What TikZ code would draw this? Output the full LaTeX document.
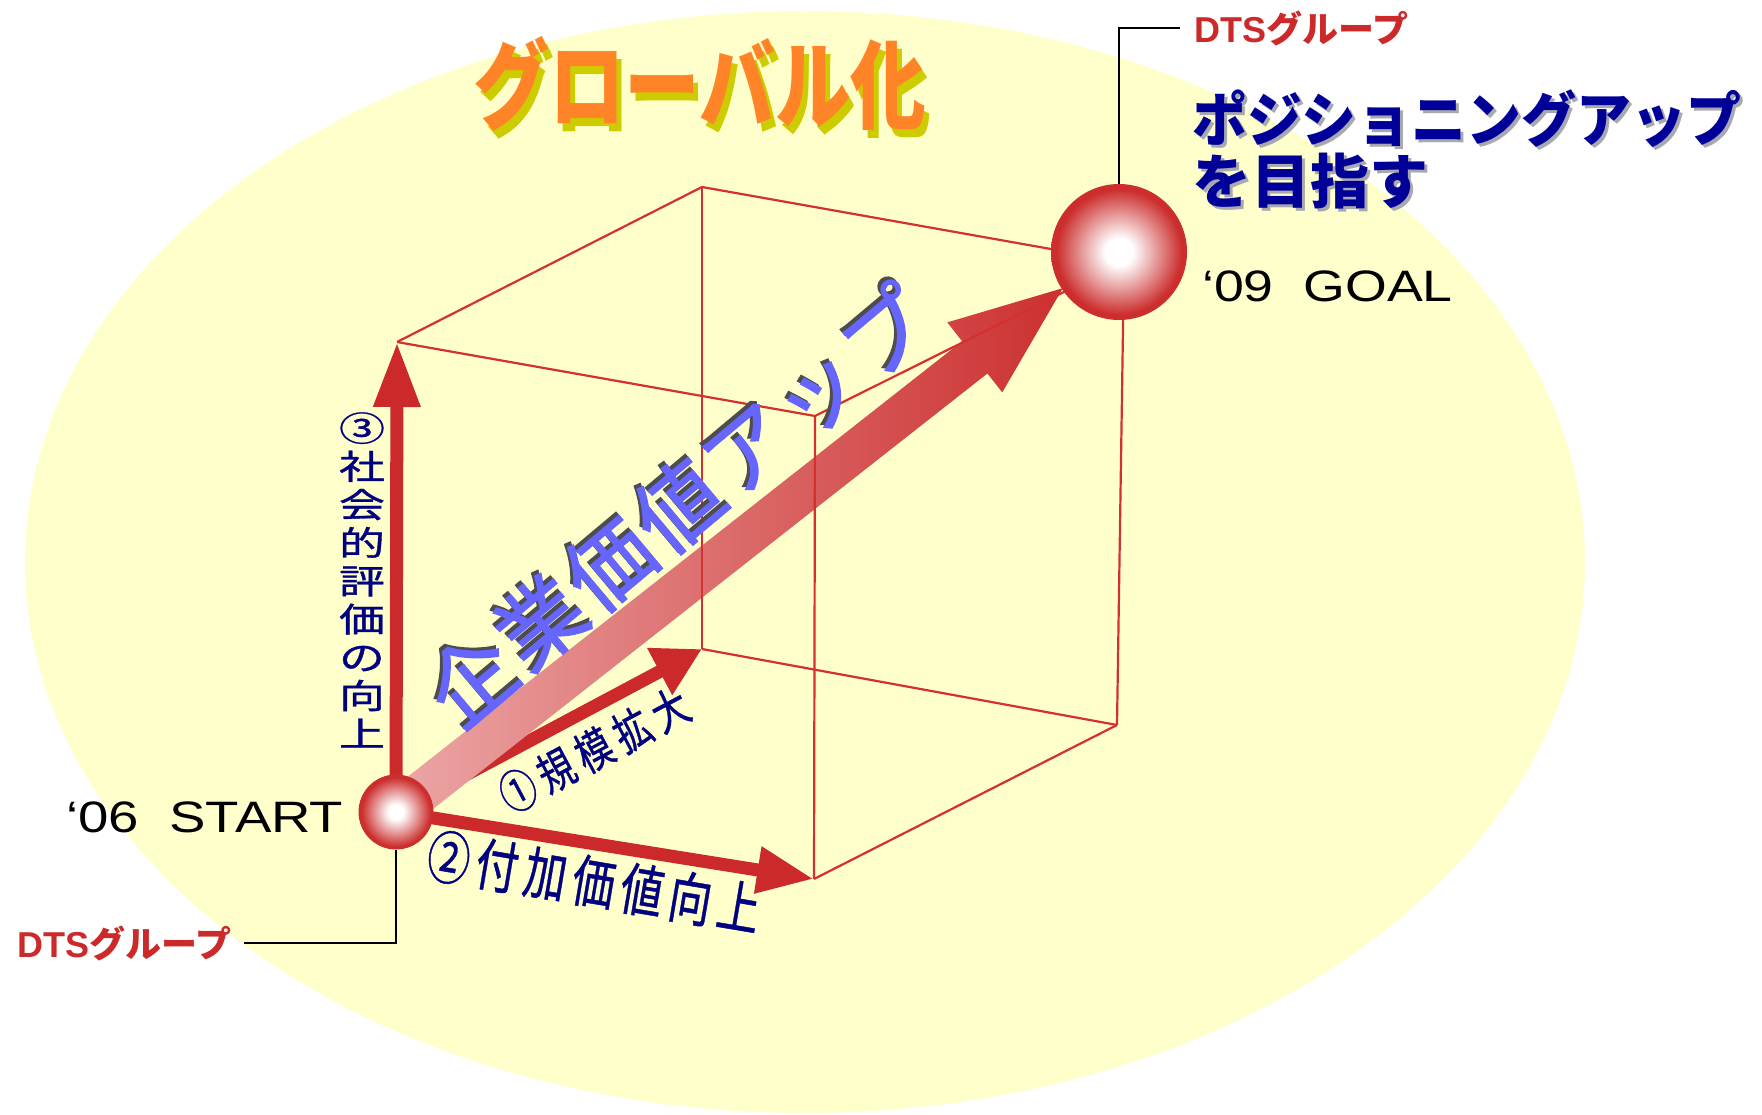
\documentclass[tikz,border=0pt]{standalone}
\usepackage{fontspec}
\usepackage{graphicx}
\setmainfont{Liberation Sans}
\newfontfamily\jp{Noto Sans CJK JP}
\newfontfamily\jpfb{Noto Sans CJK JP}[FakeBold=1.6]
\newfontfamily\jpnb{Noto Sans CJK JP}[FakeBold=0.8]
\usetikzlibrary{arrows.meta}

\definecolor{bgy}{HTML}{FFFFCC}
\definecolor{cred}{HTML}{CC2A2A}
\definecolor{lred}{HTML}{D43030}
\definecolor{navy}{HTML}{000080}
\definecolor{dblue}{HTML}{000099}
\definecolor{kblue}{HTML}{6666FF}
\definecolor{kshadow}{HTML}{4D4D4D}
\definecolor{pinkl}{HTML}{ECA8A8}
\definecolor{redd}{HTML}{CC3030}
\definecolor{orng}{HTML}{FF8428}
\definecolor{olive}{HTML}{CCCC00}
\definecolor{gshadow}{HTML}{A8A8B0}
\definecolor{sphred}{HTML}{CC2E2E}

\pgfdeclareradialshading{sphere}{\pgfpoint{0bp}{0bp}}{color(0bp)=(white); color(5bp)=(white); color(23bp)=(sphred); color(25bp)=(sphred); color(50bp)=(sphred)}

\newlength\cbw
\def\cbs{1}
\newcommand\ch[1]{\makebox[\cbw]{\scalebox{\cbs}[1]{#1}}}
\newcommand\sx[1]{\scalebox{1.35}[1]{#1}}

\begin{document}
\begin{tikzpicture}[x=1pt,y=-1pt,
  cubeedge/.style={draw=lred, line width=2.2pt},
  arr/.style={draw=cred, line width=13pt},
  conn/.style={draw=black, line width=2pt},
  sphereball/.style={circle, inner sep=0pt, shade, shading=sphere},
  navytxt/.style={text=navy, inner sep=0pt},
  dtslabel/.style={text=cred, inner sep=0pt, font=\bfseries\fontsize{36}{40}\selectfont},
  yeartxt/.style={text=black, inner sep=0pt, font=\fontsize{44}{48}\selectfont}
]
\useasboundingbox (0,0) rectangle (1762,1115);
\fill[white] (0,0) rectangle (1762,1115);
\fill[bgy] (805,562) ellipse (780 and 551);

% cube vertices
\coordinate (O) at (396,812);
\coordinate (A) at (397,342);
\coordinate (B) at (702,649);
\coordinate (C) at (814,879);
\coordinate (D) at (702,187);
\coordinate (E) at (815,416);
\coordinate (F) at (1124,262);
\coordinate (G) at (1117,725);

% three component arrows
\draw[arr, -{Triangle[length=65pt,width=44pt]}] (O) -- (A);
\draw[arr, -{Triangle[length=48pt,width=50pt]}] (O) -- (B);
\draw[arr, -{Triangle[length=57pt,width=44pt]}] (O) -- (C);

% big diagonal arrow
\begin{scope}[shift={(O)}, rotate=38.15]
  \shade[left color=pinkl, right color=redd]
    (0,20.5) -- (736,20.5) -- (736,44.5) -- (848,0) -- (736,-44.5) -- (736,-20.5) -- (0,-20.5) -- cycle;
\end{scope}

% cube edges
\draw[cubeedge] (A) -- (D);
\draw[cubeedge] (A) -- (E);
\draw[cubeedge] (D) -- (F);
\draw[cubeedge] (D) -- (B);
\draw[cubeedge] (E) -- (F);
\draw[cubeedge] (E) -- (C);
\draw[cubeedge] (F) -- (G);
\draw[cubeedge] (B) -- (G);
\draw[cubeedge] (C) -- (G);

% title
\node[text=olive, inner sep=0pt, font=\jp\bfseries\fontsize{97}{100}\selectfont] (titlesh) at (705,92) {\scalebox{0.78}[1]{グローバル化}};
\node[text=orng, inner sep=0pt, font=\jp\bfseries\fontsize{97}{100}\selectfont] (title) at (700,84) {\scalebox{0.78}[1]{グローバル化}};

% main diagonal text
\node[rotate=40, text=kshadow, inner sep=0pt, font=\jpfb\fontsize{86}{90}\selectfont] (kvsh) at (675,503)
  {\setlength\cbw{90pt}\def\cbs{1}\ch{企}\ch{業}\ch{価}\ch{値}\ch{ア}\ch{ッ}\ch{プ}};
\node[rotate=40, text=kblue, inner sep=0pt, font=\jpfb\fontsize{86}{90}\selectfont] (kv) at (678,506)
  {\setlength\cbw{90pt}\def\cbs{1}\ch{企}\ch{業}\ch{価}\ch{値}\ch{ア}\ch{ッ}\ch{プ}};

% vertical label 3
\node[navytxt, align=center, font=\jpnb\fontsize{34}{38.2}\selectfont] (lab3) at (362,580)
  {\sx{③}\\\sx{社}\\\sx{会}\\\sx{的}\\\sx{評}\\\sx{価}\\\sx{の}\\\sx{向}\\\sx{上}};

% label 1
\node[navytxt, rotate=28, font=\jpnb\fontsize{46}{48}\selectfont] (lab1) at (594,750)
  {\setlength\cbw{43pt}\def\cbs{0.78}\ch{①}\ch{規}\ch{模}\ch{拡}\ch{大}};

% label 2
\node[navytxt, rotate=-9.6, font=\jpnb\fontsize{57}{58}\selectfont] (lab2) at (594,882)
  {\setlength\cbw{49pt}\def\cbs{0.75}\ch{②}\ch{付}\ch{加}\ch{価}\ch{値}\ch{向}\ch{上}};

% goal text
\node[text=gshadow, anchor=west, inner sep=0pt, font=\jp\bfseries\fontsize{59}{62}\selectfont] (possh) at (1195,122) {\scalebox{0.93}[1]{ポジショニングアップ}};
\node[text=dblue, anchor=west, inner sep=0pt, font=\jp\bfseries\fontsize{59}{62}\selectfont] (pos) at (1192,119) {\scalebox{0.93}[1]{ポジショニングアップ}};
\node[text=gshadow, anchor=west, inner sep=0pt, font=\jp\bfseries\fontsize{59}{62}\selectfont] (mezash) at (1195,184) {を目指す};
\node[text=dblue, anchor=west, inner sep=0pt, font=\jp\bfseries\fontsize{59}{62}\selectfont] (meza) at (1192,181) {を目指す};

% year labels
\node[yeartxt, anchor=base west] (startlbl) at (66,832) {\scalebox{1.24}[1]{‘06\ \ START}};
\node[yeartxt, anchor=base west] (goallbl) at (1202,302) {\scalebox{1.22}[1]{‘09\ \ GOAL}};

% spheres
\node[sphereball, minimum size=75pt] (start) at (O) {};
\node[sphereball, minimum size=136pt] (goal) at (1119,252) {};

% DTS labels and leader lines
\node[dtslabel, anchor=west] (dtstop) at (1194,28) {DTS{\jp\bfseries グループ}};
\node[dtslabel, anchor=east] (dtsbot) at (232,943) {DTS{\jp\bfseries グループ}};
\draw[conn, shorten >=14pt] (goal.north) |- (dtstop.west);
\draw[conn, shorten >=12pt] (start.south) |- (dtsbot.east);
\end{tikzpicture}
\end{document}
